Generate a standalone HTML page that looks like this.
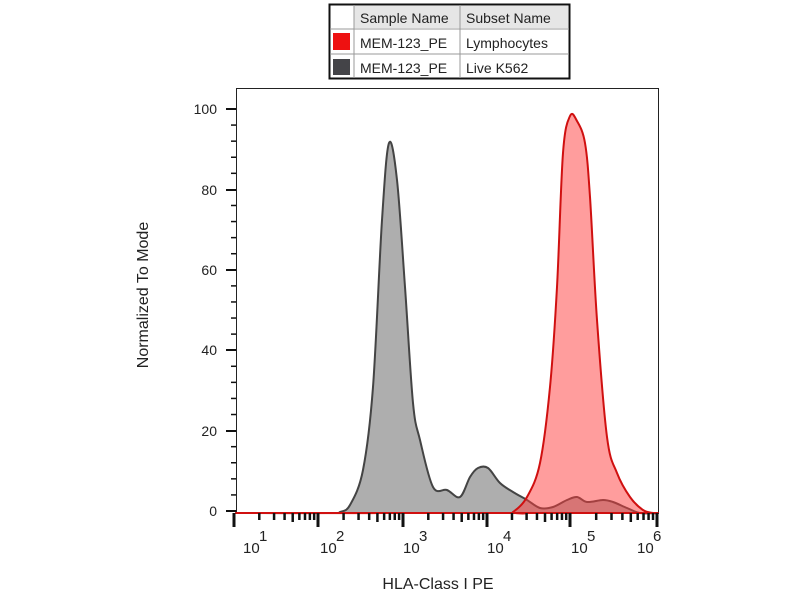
<!DOCTYPE html>
<html><head><style>
body{margin:0;background:#fff;width:800px;height:600px;overflow:hidden;font-family:"Liberation Sans",Arial,sans-serif;}
</style></head><body>
<svg width="800" height="600" xmlns="http://www.w3.org/2000/svg" font-family="Liberation Sans, Arial, sans-serif">
<rect x="329.5" y="4.5" width="240" height="74" fill="#fff" stroke="#111" stroke-width="2"/>
<rect x="354" y="6" width="214" height="22" fill="#e6e6e6"/>
<line x1="354" y1="5" x2="354" y2="78" stroke="#999"/>
<line x1="460" y1="5" x2="460" y2="78" stroke="#999"/>
<line x1="330" y1="29" x2="569" y2="29" stroke="#999"/>
<line x1="330" y1="54" x2="569" y2="54" stroke="#999"/>
<rect x="333" y="33" width="17" height="17" fill="#ee1111"/>
<rect x="333" y="59" width="17" height="16" fill="#444448"/>
<g font-size="14" fill="#222">
<text x="360" y="23">Sample Name</text><text x="466" y="23">Subset Name</text>
<text x="360" y="48">MEM-123_PE</text><text x="466" y="48">Lymphocytes</text>
<text x="360" y="73">MEM-123_PE</text><text x="466" y="73">Live K562</text>
</g>
<rect x="236.5" y="88.5" width="422" height="425" fill="none" stroke="#222" stroke-width="1"/>
<path id="gray" fill="rgba(140,140,140,0.7)" stroke="#444" stroke-width="2" stroke-linejoin="round"/>
<path id="red" fill="rgba(255,60,60,0.5)" stroke="#d01010" stroke-width="2" stroke-linejoin="round"/>
<line x1="236" y1="513" x2="658" y2="513" stroke="#d01010" stroke-width="2"/>
<g stroke="#111" stroke-width="2">
<line x1="226" y1="511" x2="236" y2="511"/><line x1="226" y1="431" x2="236" y2="431"/>
<line x1="226" y1="350" x2="236" y2="350"/><line x1="226" y1="270" x2="236" y2="270"/>
<line x1="226" y1="190" x2="236" y2="190"/><line x1="226" y1="109" x2="236" y2="109"/>
</g>
<g stroke="#111" stroke-width="1.5" id="yminor"></g>
<g font-size="14" fill="#222" text-anchor="end">
<text x="217" y="516">0</text><text x="217" y="436">20</text><text x="217" y="355">40</text>
<text x="217" y="275">60</text><text x="217" y="195">80</text><text x="217" y="114">100</text>
</g>
<g id="xt" stroke="#111"></g>
<g font-size="15" fill="#222" id="xl"></g>
<text x="148" y="295" font-size="16" fill="#222" text-anchor="middle" transform="rotate(-90 148 295)">Normalized To Mode</text>
<text x="438" y="589" font-size="16" fill="#222" text-anchor="middle">HLA-Class I PE</text>
</svg>
<script>
var ns="http://www.w3.org/2000/svg";
function smooth(p){var d="M"+p[0][0]+","+p[0][1];for(var i=0;i<p.length-1;i++){var a=p[i-1]||p[i],b=p[i],c=p[i+1],e=p[i+2]||c;
d+=" C"+(b[0]+(c[0]-a[0])/6)+","+(b[1]+(c[1]-a[1])/6)+" "+(c[0]-(e[0]-b[0])/6)+","+(c[1]-(e[1]-b[1])/6)+" "+c[0]+","+c[1];}return d;}
var g=[[236,513],[330,513],[340,512],[350,505],[363,470],[373,387],[382,220],[389,143],[397,180],[405,287],[413,403],[420,440],[433,487],[447,490],[460,497],[470,477],[478,468],[488,468],[500,483],[513,492],[527,500],[540,508],[553,507],[567,500],[577,497],[587,502],[603,500],[613,502],[627,508],[640,513],[658,513]];
var r=[[236,513],[505,513],[513,512],[527,497],[540,463],[550,387],[557,287],[563,153],[570,116],[577,121],[585,143],[590,197],[597,320],[607,437],[617,473],[630,497],[643,510],[653,513],[658,513]];
document.getElementById("gray").setAttribute("d",smooth(g)+" Z");
document.getElementById("red").setAttribute("d",smooth(r)+" Z");
var ym=document.getElementById("yminor");
for(var v=0;v<=100;v+=4){if(v%20==0)continue;var y=511-4.02*v;var l=document.createElementNS(ns,"line");l.setAttribute("x1",231);l.setAttribute("x2",236);l.setAttribute("y1",y);l.setAttribute("y2",y);ym.appendChild(l);}
var xt=document.getElementById("xt"),xl=document.getElementById("xl");
var dec=[234,318,403,487,570,657];
var lx=[243,320,403,487,571,637];
for(var d=0;d<6;d++){var x=dec[d];
 var l=document.createElementNS(ns,"line");l.setAttribute("x1",x);l.setAttribute("x2",x);l.setAttribute("y1",513);l.setAttribute("y2",527);l.setAttribute("stroke-width",3);xt.appendChild(l);
 var t=document.createElementNS(ns,"text");t.setAttribute("x",lx[d]);t.setAttribute("y",553);t.textContent="10";xl.appendChild(t);
 var s=document.createElementNS(ns,"text");s.setAttribute("x",lx[d]+16);s.setAttribute("y",541);s.textContent=""+(d+1);xl.appendChild(s);
 if(d<5){var w=dec[d+1]-x;for(var k=2;k<10;k++){var xx=x+w*Math.log10(k);var m=document.createElementNS(ns,"line");m.setAttribute("x1",xx);m.setAttribute("x2",xx);m.setAttribute("y1",513);m.setAttribute("y2",k==5?522:520);m.setAttribute("stroke-width",2.5);xt.appendChild(m);}}
}
</script>
</body></html>
